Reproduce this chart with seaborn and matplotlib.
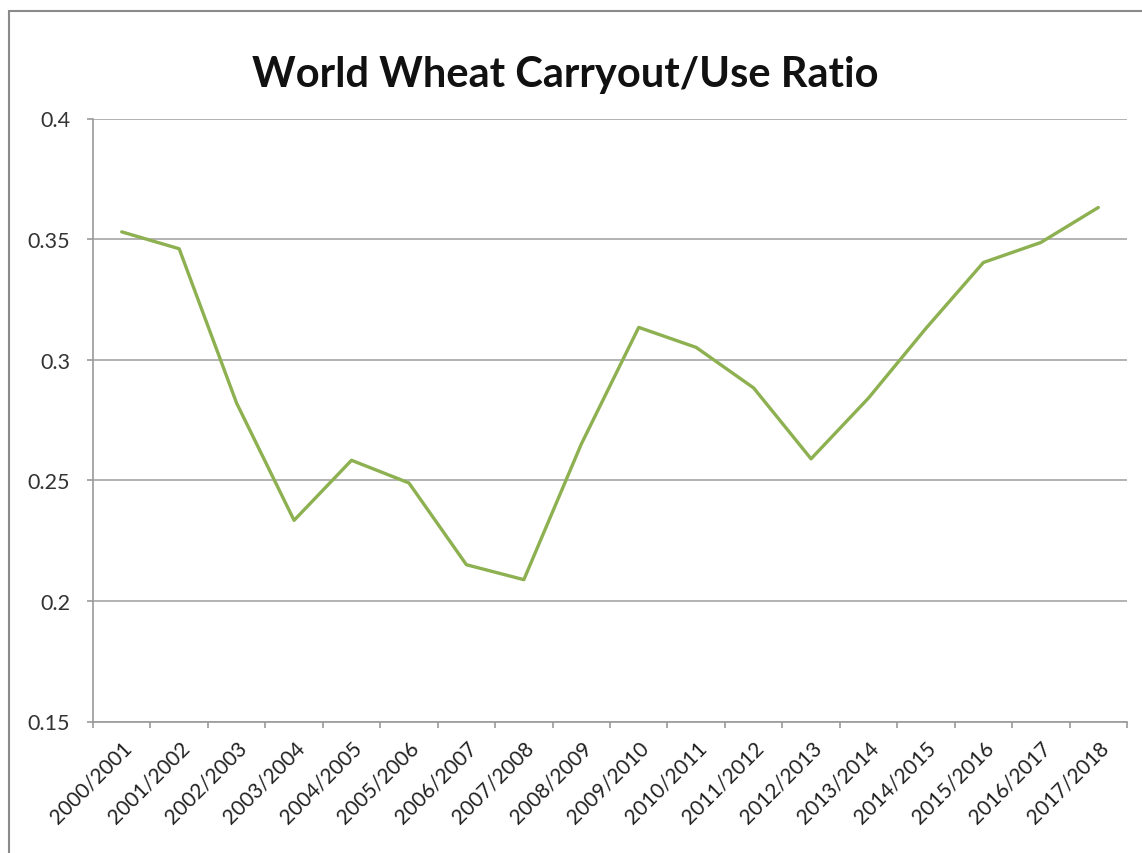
import matplotlib
matplotlib.use("Agg")
import matplotlib.pyplot as plt
import matplotlib.patches as mpatches
from matplotlib.ticker import FixedLocator
import seaborn as sns
import pandas as pd
import numpy as np

seasons = ["2000/2001", "2001/2002", "2002/2003", "2003/2004", "2004/2005", "2005/2006",
           "2006/2007", "2007/2008", "2008/2009", "2009/2010", "2010/2011", "2011/2012",
           "2012/2013", "2013/2014", "2014/2015", "2015/2016", "2016/2017", "2017/2018"]
ratio = [0.353, 0.346, 0.282, 0.2334, 0.2583, 0.2489, 0.215, 0.2088, 0.265, 0.3134,
         0.3051, 0.2883, 0.2589, 0.2841, 0.313, 0.3403, 0.3486, 0.3631]
y_ticks = [0.15, 0.2, 0.25, 0.3, 0.35, 0.4]
y_tick_labels = ["0.15", "0.2", "0.25", "0.3", "0.35", "0.4"]
title = "World Wheat Carryout/Use Ratio"

sns.set_theme(style="white")
plt.rcParams['font.family'] = ['Lato', 'DejaVu Sans']

df = pd.DataFrame({"pos": np.arange(len(seasons)), "ratio": ratio})

fig = plt.figure(figsize=(11.42, 8.54), dpi=100)
ax = fig.add_axes([93/1142, 1-722.5/854, (1127-93)/1142, (722.5-119.5)/854])

sns.lineplot(data=df, x="pos", y="ratio", ax=ax, color="#8DB050", linewidth=2.4)

ax.set_xlim(-0.5, len(seasons) - 0.5)
ax.set_ylim(0.15, 0.4)
ax.set_yticks(y_ticks)
ax.set_yticklabels(y_tick_labels)
ax.set_xticks(np.arange(len(seasons)))
ax.set_xticklabels(seasons, rotation=45, ha="right", rotation_mode="anchor")
ax.xaxis.set_minor_locator(FixedLocator(np.arange(len(seasons) + 1) - 0.5))
ax.tick_params(axis="x", which="major", length=0, pad=11, labelsize=15, labelcolor="#222222")
ax.tick_params(axis="x", which="minor", length=4.5, width=1.2, color="#9a9a9a", bottom=True)
ax.tick_params(axis="y", which="major", length=4.5, width=1.2, color="#9a9a9a", left=True,
               pad=12, labelsize=15.5, labelcolor="#333333")
ax.set_xlabel("")
ax.set_ylabel("")
ax.grid(axis="y", color="#a6a6a6", linewidth=1.2)
ax.grid(axis="x", visible=False)
ax.set_axisbelow(True)
for side in ["top", "right"]:
    ax.spines[side].set_visible(False)
for side in ["left", "bottom"]:
    ax.spines[side].set_color("#9a9a9a")
    ax.spines[side].set_linewidth(1.2)

fig.text(565/1142, 1-75/854, title, ha="center", va="center", fontsize=30,
         fontweight="bold", color="#111111")

border = mpatches.Rectangle((9/1142, -0.05), 1.1, 1 - 12/854 + 0.05, transform=fig.transFigure,
                            fill=False, edgecolor="#8a8a8a", linewidth=1.5, zorder=0)
fig.patches.append(border)

fig.savefig("out.png", dpi=100)
